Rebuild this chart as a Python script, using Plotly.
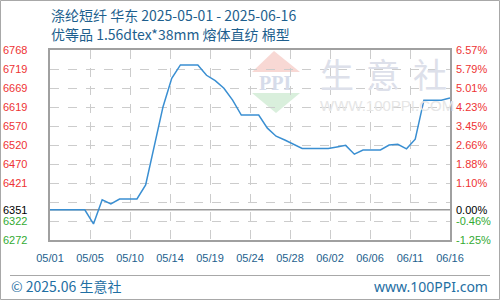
import pandas as pd
import plotly.graph_objects as go

# ---------------- data ----------------
dates = pd.date_range("2025-05-01", "2025-06-16", freq="D").strftime("%Y-%m-%d").tolist()
prices = [6351, 6351, 6351, 6351, 6351, 6314, 6377, 6366, 6379, 6379,
          6379, 6416, 6516, 6620, 6694, 6729, 6729, 6729, 6702, 6688,
          6668, 6637, 6598, 6598, 6598, 6564, 6543, 6533, 6522, 6511,
          6511, 6511, 6511, 6515, 6519, 6496, 6507, 6507, 6507, 6520,
          6522, 6510, 6535, 6637, 6637, 6637, 6643]
x_tick_labels = ["05/01", "05/05", "05/10", "05/14", "05/19", "05/24",
                 "05/28", "06/02", "06/06", "06/11", "06/16"]
y_levels = [6768, 6718.4, 6668.8, 6619.2, 6569.6, 6520, 6470.4, 6420.8, 6371.2, 6321.6, 6272]
y_left_labels = ["6768", "6719", "6669", "6619", "6570", "6520", "6470", "6421", "", "6322", "6272"]
y_right_labels = ["6.57%", "5.79%", "5.01%", "4.23%", "3.45%", "2.66%", "1.88%", "1.10%", "", "-0.46%", "-1.25%"]
base_value = 6351
title_line1 = "涤纶短纤 华东 2025-05-01 - 2025-06-16"
title_line2 = "优等品 1.56dtex*38mm 熔体直纺 棉型"

# ---------------- geometry helpers (pixel -> paper) ----------------
L, R, T, B = 50, 50, 50, 60
W, H = 500, 300
PW, PH = W - L - R, H - T - B


def px(x):
    return (x - L) / PW


def py(y):
    return (H - B - y) / PH


start = pd.Timestamp(dates[0])
end = pd.Timestamp(dates[-1])
span = (end - start) / (len(x_tick_labels) - 1)
tickvals = [start + span * i for i in range(len(x_tick_labels))]

blue_text = "#1e5f8e"
fig = go.Figure()
fig.add_trace(go.Scatter(x=dates, y=prices, mode="lines",
                         line=dict(color="#3a8fd2", width=1.5),
                         hoverinfo="skip", showlegend=False))

shapes = []
# outer frame
shapes.append(dict(type="rect", xref="paper", yref="paper",
                   x0=px(0.5), x1=px(499.5), y0=py(299.5), y1=py(0.5),
                   line=dict(color="#a8a8a8", width=1), layer="below"))
# footer separator
shapes.append(dict(type="line", xref="paper", yref="paper",
                   x0=px(10), x1=px(490), y0=py(275.5), y1=py(275.5),
                   line=dict(color="#a8a8a8", width=1)))
# white box behind watermark text
shapes.append(dict(type="rect", xref="paper", yref="paper",
                   x0=px(317), x1=px(449), y0=py(95), y1=py(57),
                   fillcolor="white", line=dict(width=0), layer="between"))
# logo triangles
shapes.append(dict(type="path", xref="paper", yref="paper",
                   path=f"M {px(252)} {py(72)} L {px(300)} {py(72)} L {px(274)} {py(51)} Z",
                   fillcolor="#f8d8d4", line=dict(width=0), layer="between"))
shapes.append(dict(type="path", xref="paper", yref="paper",
                   path=f"M {px(252)} {py(93)} L {px(300)} {py(93)} L {px(276)} {py(113)} Z",
                   fillcolor="#d9efdc", line=dict(width=0), layer="between"))
# baseline
shapes.append(dict(type="line", xref="paper", yref="y", x0=0, x1=1,
                   y0=base_value, y1=base_value,
                   line=dict(color="#9a9a9a", width=1.5), layer="between"))

annotations = []
for ch, cx in zip(["生", "意", "社"], [337, 383, 430]):
    annotations.append(dict(text=ch, xref="paper", yref="paper", x=px(cx), y=py(73),
                            showarrow=False, xanchor="center", yanchor="middle",
                            font=dict(family="Noto Sans CJK SC", size=34, color="#dde0ea")))
annotations.append(dict(text="WWW.100PPI.COM", xref="paper", yref="paper", x=px(387), y=py(105),
                        showarrow=False, xanchor="center", yanchor="middle",
                        font=dict(family="Liberation Sans", size=15, color="#e6e6e6")))
annotations.append(dict(text="<b>PPI</b>", xref="paper", yref="paper", x=px(275), y=py(83),
                        showarrow=False, xanchor="center", yanchor="middle",
                        font=dict(family="Liberation Serif", size=20, color="#d6dcea")))

# axis labels
for v, lt, rt in zip(y_levels, y_left_labels, y_right_labels):
    if not lt:
        continue
    col = "#ee3333" if v > base_value else "#33aa33"
    annotations.append(dict(text=lt, xref="paper", yref="y", x=px(29), y=v, showarrow=False,
                            xanchor="right", yanchor="middle",
                            font=dict(family="Liberation Sans", size=11, color=col)))
    annotations.append(dict(text=rt, xref="paper", yref="y", x=px(454), y=v, showarrow=False,
                            xanchor="left", yanchor="middle",
                            font=dict(family="Liberation Sans", size=11, color=col)))
annotations.append(dict(text=str(base_value), xref="paper", yref="y", x=px(29), y=base_value,
                        showarrow=False, xanchor="right", yanchor="middle",
                        font=dict(family="Liberation Sans", size=11, color="#000000")))
annotations.append(dict(text="0.00%", xref="paper", yref="y", x=px(454), y=base_value,
                        showarrow=False, xanchor="left", yanchor="middle",
                        font=dict(family="Liberation Sans", size=11, color="#000000")))

# titles
annotations.append(dict(text=title_line1, xref="paper", yref="paper", x=px(49), y=py(15),
                        showarrow=False, xanchor="left", yanchor="middle",
                        font=dict(family="Noto Sans CJK SC", size=14, color=blue_text)))
annotations.append(dict(text=title_line2, xref="paper", yref="paper", x=px(49), y=py(34),
                        showarrow=False, xanchor="left", yanchor="middle",
                        font=dict(family="Noto Sans CJK SC", size=14, color=blue_text)))
# footer
annotations.append(dict(text="© 2025.06 生意社", xref="paper", yref="paper", x=px(9), y=py(286),
                        showarrow=False, xanchor="left", yanchor="middle",
                        font=dict(family="Noto Sans CJK SC", size=14, color="#1f6fa3")))
annotations.append(dict(text="www.100PPI.com", xref="paper", yref="paper", x=px(490), y=py(286),
                        showarrow=False, xanchor="right", yanchor="middle",
                        font=dict(family="Noto Sans", size=14, color="#1f6fa3")))

fig.update_layout(
    width=W, height=H, margin=dict(l=L, r=R, t=T, b=B),
    paper_bgcolor="white", plot_bgcolor="white",
    shapes=shapes, annotations=annotations, showlegend=False,
    xaxis=dict(type="date", range=[start, end], tickvals=tickvals, ticktext=x_tick_labels,
               tickfont=dict(family="Liberation Sans", size=11, color=blue_text),
               showgrid=True, gridcolor="#cccccc", griddash="dash", gridwidth=1,
               showline=True, linecolor="#a0a0a0", linewidth=1.5, mirror=True,
               ticks="outside", ticklen=7, tickcolor="rgba(0,0,0,0)", zeroline=False,
               fixedrange=True),
    yaxis=dict(range=[y_levels[-1], y_levels[0]], tickvals=y_levels, showticklabels=False,
               showgrid=True, gridcolor="#cccccc", griddash="dash", gridwidth=1,
               showline=True, linecolor="#a0a0a0", linewidth=1.5, mirror=True,
               zeroline=False, fixedrange=True),
)

fig.write_html("out.html")
